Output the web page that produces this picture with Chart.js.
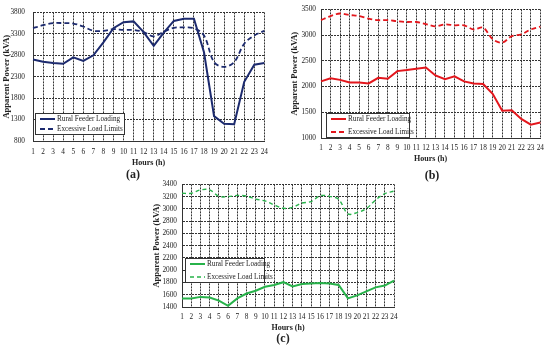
<!DOCTYPE html>
<html>
<head>
<meta charset="utf-8">
<script src="https://cdn.jsdelivr.net/npm/chart.js@4"></script>
<style>
  body { margin: 0; background: #fff; }
  #wrap { position: relative; width: 550px; height: 346px; overflow: hidden; }
  .box { position: absolute; }
  .tag { position: absolute; font: bold 12px "Liberation Serif", serif; color: #222; transform: translateX(-50%); }
</style>
</head>
<body>
<div id="wrap">
  <div class="box" style="left:0;top:0;width:275px;height:170px"><canvas id="chartA"></canvas></div>
  <div class="box" style="left:275px;top:0;width:275px;height:166px"><canvas id="chartB"></canvas></div>
  <div class="box" style="left:130px;top:175px;width:290px;height:160px"><canvas id="chartC"></canvas></div>
  <div class="tag" style="left:133px;top:167px">(a)</div>
  <div class="tag" style="left:432px;top:168px">(b)</div>
  <div class="tag" style="left:283px;top:331px">(c)</div>
</div>
<script>
// ---- data ----
const hours = ["1","2","3","4","5","6","7","8","9","10","11","12","13","14","15","16","17","18","19","20","21","22","23","24"];

const loadA  = [2700,2650,2620,2600,2750,2670,2800,3100,3430,3570,3590,3340,3020,3330,3600,3650,3650,2870,1380,1200,1190,2180,2580,2620];
const limitA = [3430,3500,3550,3550,3540,3470,3370,3370,3410,3390,3390,3340,3240,3350,3440,3450,3430,3260,2640,2530,2640,3070,3260,3370];

const loadB  = [2100,2160,2130,2080,2080,2060,2170,2150,2300,2320,2345,2370,2215,2145,2200,2100,2060,2050,1860,1530,1540,1370,1260,1300];
const limitB = [3290,3370,3420,3390,3370,3320,3290,3290,3270,3255,3255,3215,3170,3210,3190,3190,3110,3145,2920,2855,2980,3015,3110,3165];

const loadC  = [1540,1540,1565,1555,1505,1420,1540,1620,1665,1730,1760,1805,1735,1775,1785,1790,1785,1760,1540,1590,1655,1720,1750,1830];
const limitC = [3255,3255,3310,3310,3205,3200,3220,3210,3160,3130,3065,3010,3025,3095,3120,3215,3205,3155,2920,2940,3005,3145,3250,3290];

const ticksA = [800, 3800, 500];
const ticksB = [1000, 3500, 500];
const ticksC = [1400, 3400, 200];

const SERIF = '"Liberation Serif", "Times New Roman", serif';

/*
=====================================
LEGEND BOX
=====================================
*/
const legendBox = {
    id: "legendBox",
    afterDatasetsDraw(chart, args, opts) {
        const { ctx } = chart;
        const { x, y, w, h, sample } = opts;
        ctx.save();
        ctx.fillStyle = "#fff";
        ctx.fillRect(x, y, w, h);
        ctx.strokeStyle = "#333";
        ctx.lineWidth = 1;
        ctx.setLineDash([]);
        ctx.strokeRect(x + 0.5, y + 0.5, w, h);
        chart.data.datasets.forEach((ds, i) => {
            const cy = Math.round(y + h * (i === 0 ? 0.27 : 0.78));
            ctx.strokeStyle = ds.borderColor;
            ctx.lineWidth = ds.borderWidth;
            ctx.setLineDash(ds.borderDash || []);
            ctx.beginPath();
            ctx.moveTo(x + 5, cy);
            ctx.lineTo(x + 5 + sample, cy);
            ctx.stroke();
            ctx.fillStyle = "#222";
            ctx.font = "7.2px " + SERIF;
            ctx.textBaseline = "middle";
            ctx.fillText(ds.label, x + 7 + sample, cy);
        });
        ctx.restore();
    }
};

/*
=====================================
CHART RENDERER
=====================================
*/
function renderChart(canvasId, load, limit, color, range, cfg) {
    const canvas = document.getElementById(canvasId);
    const grid = { color: "#333", lineWidth: 1, drawTicks: false };
    const border = { color: "#333", dash: [2, 1] };
    return new Chart(canvas, {
        type: "line",
        data: {
            labels: hours,
            datasets: [
                { label: "Rural Feeder Loading", data: load, borderColor: color, borderWidth: 2, pointRadius: 0, tension: 0 },
                { label: "Excessive Load Limits", data: limit, borderColor: color, borderWidth: cfg.dashWidth, borderDash: cfg.dash, pointRadius: 0, tension: 0.35 }
            ]
        },
        options: {
            responsive: true,
            maintainAspectRatio: false,
            animation: false,
            layout: { padding: cfg.padding },
            plugins: {
                legend: { display: false },
                tooltip: { enabled: false },
                legendBox: cfg.legend
            },
            scales: {
                x: {
                    offset: false,
                    grid: grid,
                    border: border,
                    ticks: { color: "#222", font: { family: SERIF, size: 7.3 }, padding: cfg.xPad, maxRotation: 0, autoSkip: false },
                    title: { display: true, text: "Hours (h)", color: "#222", font: { family: SERIF, size: 8, weight: "bold" }, padding: { top: 2, bottom: 2 } },
                    afterFit: s => { s.height = cfg.xHeight; }
                },
                y: {
                    min: range[0],
                    max: range[1],
                    grid: grid,
                    border: border,
                    ticks: { stepSize: range[2], color: "#222", font: { family: SERIF, size: 7.3 }, padding: cfg.yPad, callback: v => String(v) },
                    title: { display: true, text: "Apparent Power (kVA)", color: "#222", font: { family: SERIF, size: 8.5, weight: "bold" }, padding: { top: 2, bottom: 2 } },
                    afterFit: s => { s.width = cfg.yWidth; }
                }
            }
        },
        plugins: [legendBox]
    });
}

renderChart("chartA", loadA, limitA, "#1c2a6e", ticksA, {
    padding: { left: 0, right: 10, top: 7, bottom: 0 },
    yWidth: 33, xHeight: 29, xPad: 7, yPad: 8,
    dash: [5, 3], dashWidth: 1.8,
    legend: { x: 35, y: 113, w: 89, h: 21, sample: 15 }
});

renderChart("chartB", loadB, limitB, "#e3161c", ticksB, {
    padding: { left: 13, right: 6, top: 9, bottom: 0 },
    yWidth: 33, xHeight: 28, xPad: 6, yPad: 5,
    dash: [5, 3], dashWidth: 1.8,
    legend: { x: 51, y: 113, w: 83, h: 24, sample: 15 }
});

renderChart("chartC", loadC, limitC, "#27b24a", ticksC, {
    padding: { left: 20, right: 26, top: 9, bottom: 0 },
    yWidth: 32, xHeight: 28, xPad: 6, yPad: 5,
    dash: [4, 3], dashWidth: 1.4,
    legend: { x: 55, y: 83, w: 79, h: 24, sample: 15 }
});
</script>
</body>
</html>
